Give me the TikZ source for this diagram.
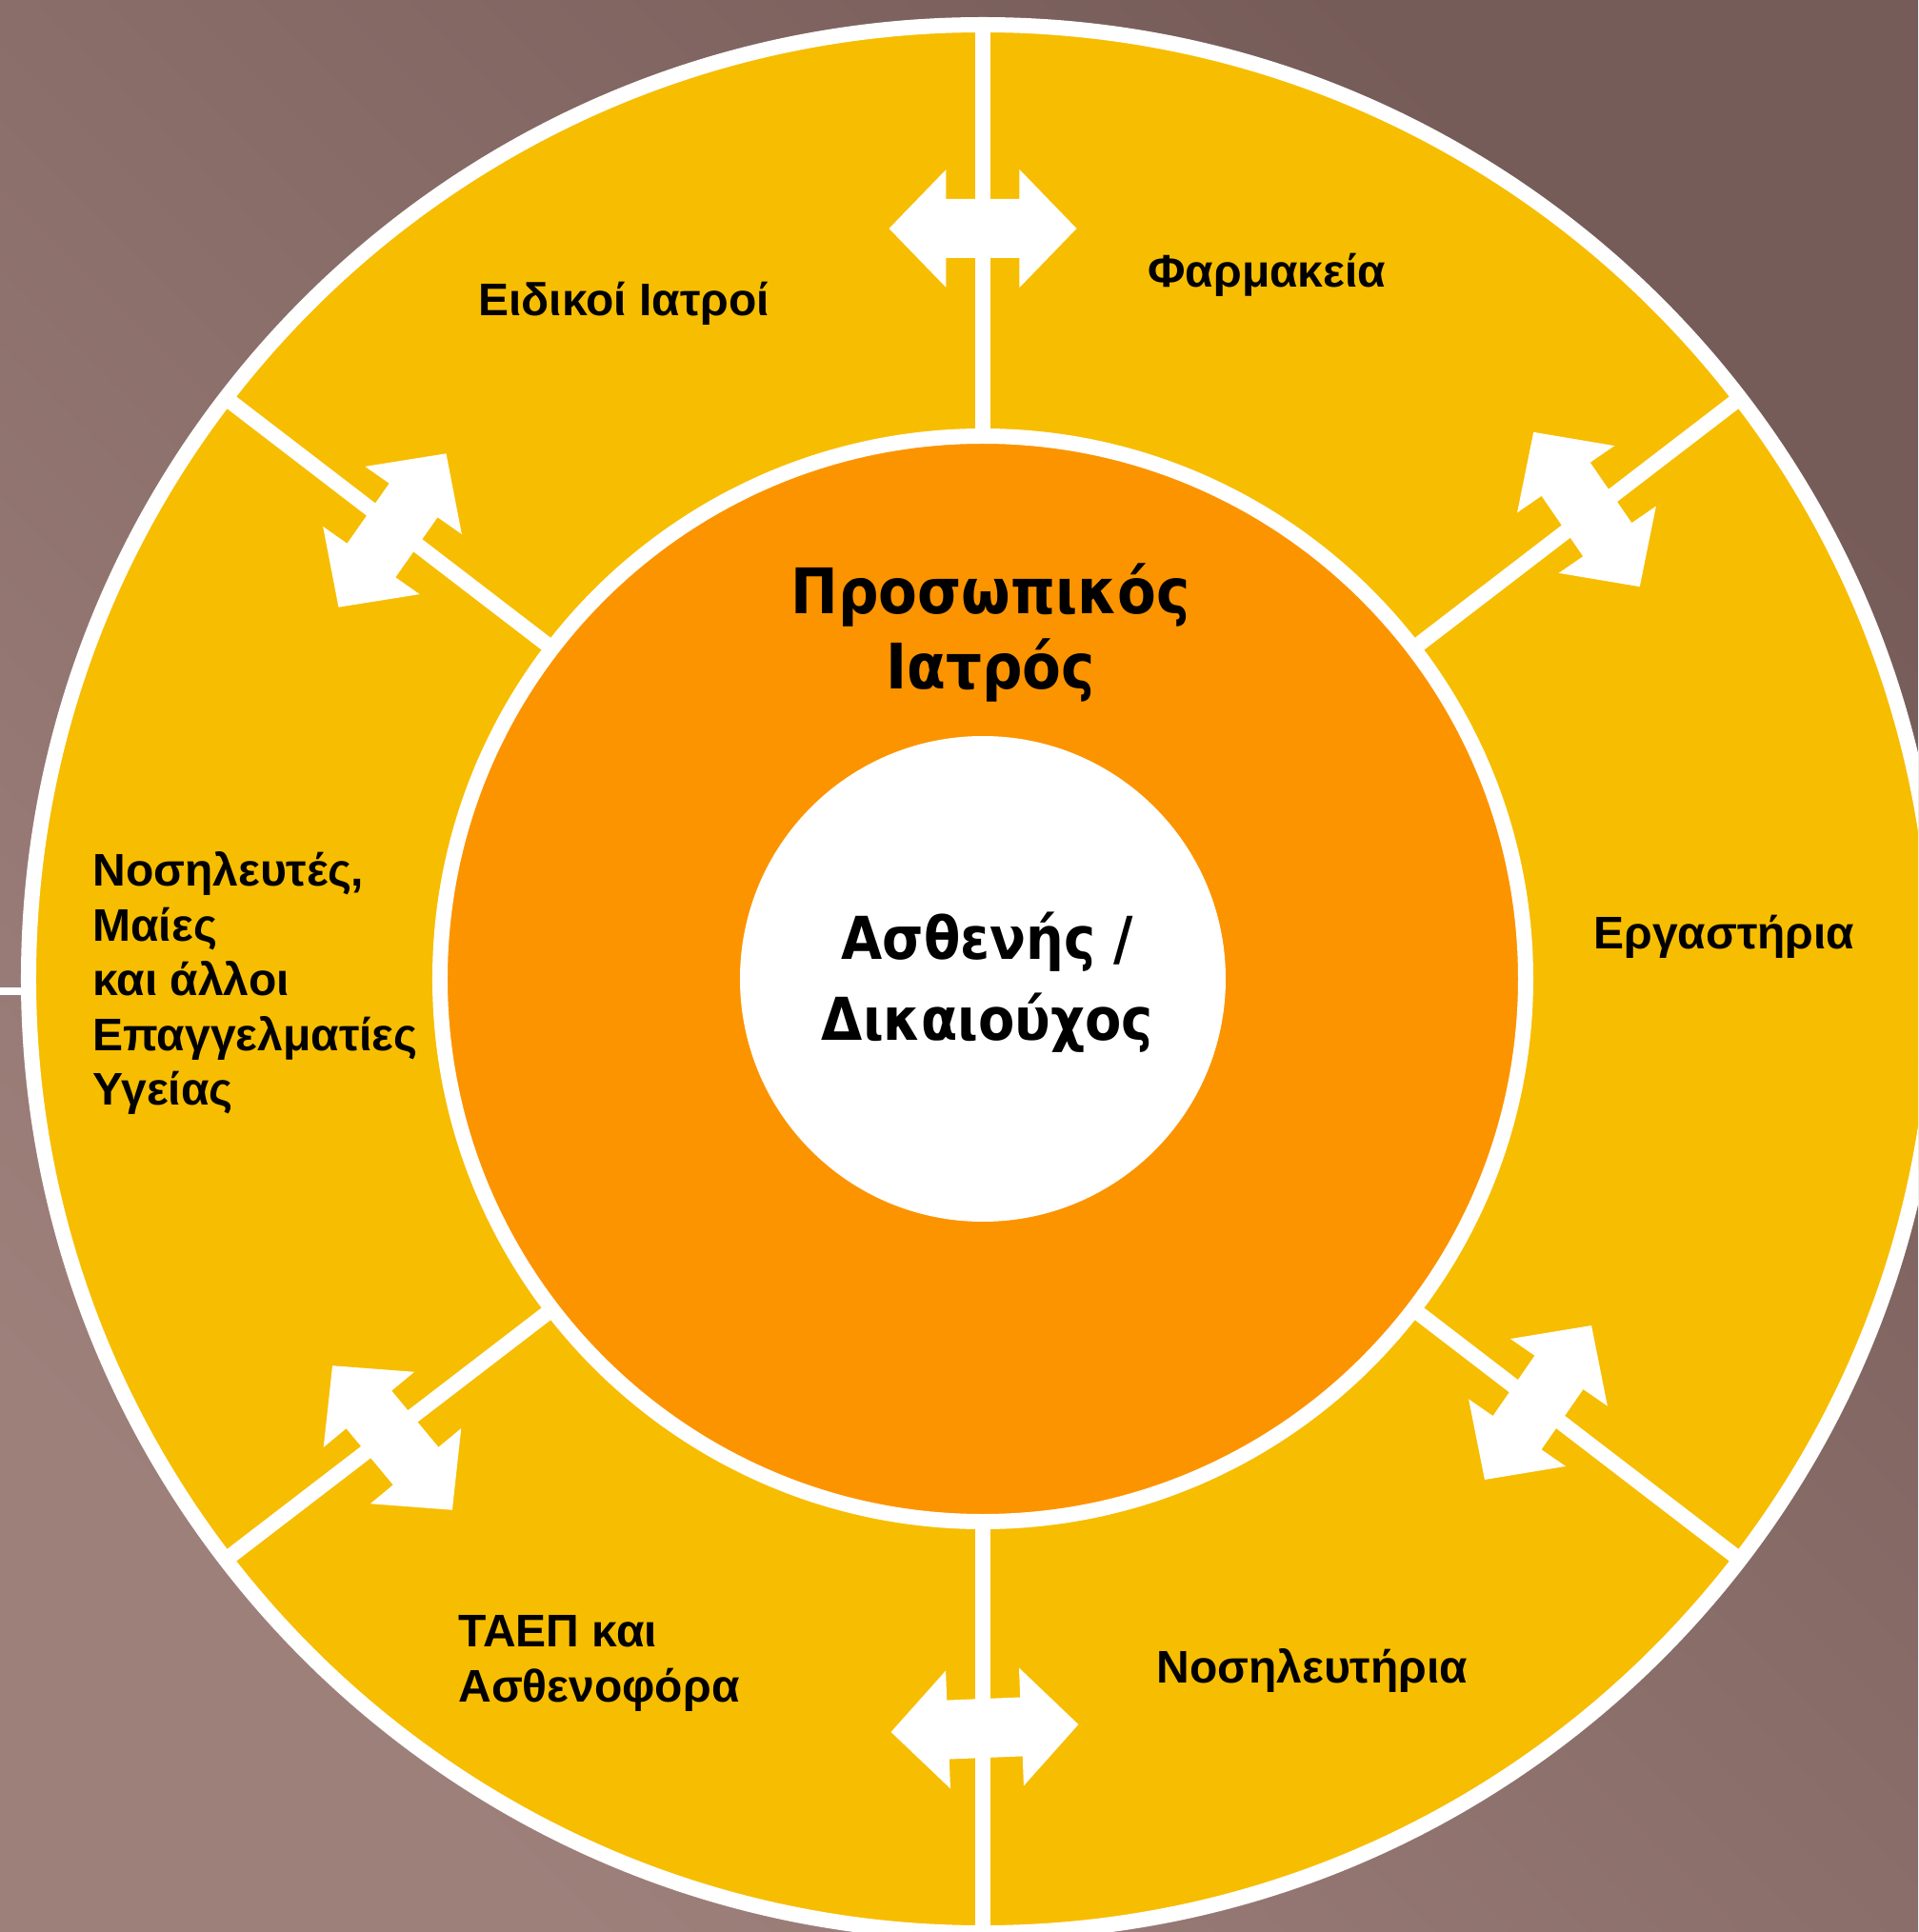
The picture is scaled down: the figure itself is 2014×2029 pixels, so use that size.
\documentclass[tikz,border=0pt]{standalone}
\usepackage{fontspec}
\setmainfont{Liberation Sans}
\newfontfamily\centrefont[FakeStretch=0.9]{DejaVu Sans}
\usepackage{tikz}
\usetikzlibrary{positioning}
\definecolor{bgdark}{RGB}{118,92,89}
\definecolor{bglight}{RGB}{158,128,123}
\definecolor{ringyellow}{RGB}{247,189,0}
\definecolor{coreorange}{RGB}{252,148,0}
\tikzstyle{label} = [font=\fontsize{24}{28.8}\selectfont\bfseries, inner sep=0pt, align=left]
\tikzstyle{centrelabel} = [inner sep=0pt, align=center]
\tikzstyle{divider} = [white, line width=8pt]
\tikzstyle{ring} = [draw=white, line width=8pt]
\tikzset{twoway/.pic={
  \fill[white] (-98.5,0) -- (-38.5,62) -- (-38.5,31) -- (38.5,31) -- (38.5,62)
    -- (98.5,0) -- (38.5,-62) -- (38.5,-31) -- (-38.5,-31) -- (-38.5,-62) -- cycle;
}}

\begin{document}
\begin{tikzpicture}[x=0.5pt, y=0.5pt]
  \useasboundingbox (-1032,-1001) rectangle (982,1028);
  \clip (-1032,-1001) rectangle (982,1028);
  \shade[top color=bgdark, bottom color=bglight, shading angle=-45] (-1032,-1001) rectangle (982,1028);

  % outer ring and dividers
  \draw[divider, line width=4pt] (-1032,-13) -- (-1000,-13);
  \filldraw[ring, fill=ringyellow] (0,0) circle (1002);
  \foreach \a in {90, 37.5, -37.5, -90, 217.5, 142.5}
    \draw[divider] (\a:560) -- (\a:1002);

  % doctor and patient
  \filldraw[ring, fill=coreorange] (0,0) circle (570);
  \fill[white] (0,0) circle (255);

  % two-way arrows
  \pic at (0,788) {twoway};
  \pic[rotate=2.3] at (2,-787) {twoway};
  \pic[rotate=55] at (-620,471) {twoway};
  \pic[rotate=124.5] at (634,493) {twoway};
  \pic[rotate=129.7] at (-620,-482) {twoway};
  \pic[rotate=55.3] at (583,-445) {twoway};

  \node (gp) [centrelabel, anchor=north, font=\centrefont\bfseries\fontsize{33}{39.5}\selectfont] at (8,437) {Προσωπικός\\Ιατρός};
  \node (patient) [centrelabel, anchor=north, font=\centrefont\bfseries\fontsize{31}{42.5}\selectfont] at (5,70) {Ασθενής /\\Δικαιούχος};

  \node (spec) [label, anchor=base west] at (-530,696) {Ειδικοί Ιατροί};
  \node (pharm) [label, anchor=base west] at (173,726) {Φαρμακεία};
  \node (labs) [label, anchor=base west] at (641,32) {Εργαστήρια};
  \node (hosp) [label, anchor=base west] at (182,-739) {Νοσηλευτήρια};
  \node (emerg) [label, anchor=north west] at (-551,-668) {ΤΑΕΠ και\\Ασθενοφόρα};
  \node (nurses) [label, anchor=north west] at (-935,134) {Νοσηλευτές,\\Μαίες\\και άλλοι\\Επαγγελματίες\\Υγείας};
\end{tikzpicture}
\end{document}
